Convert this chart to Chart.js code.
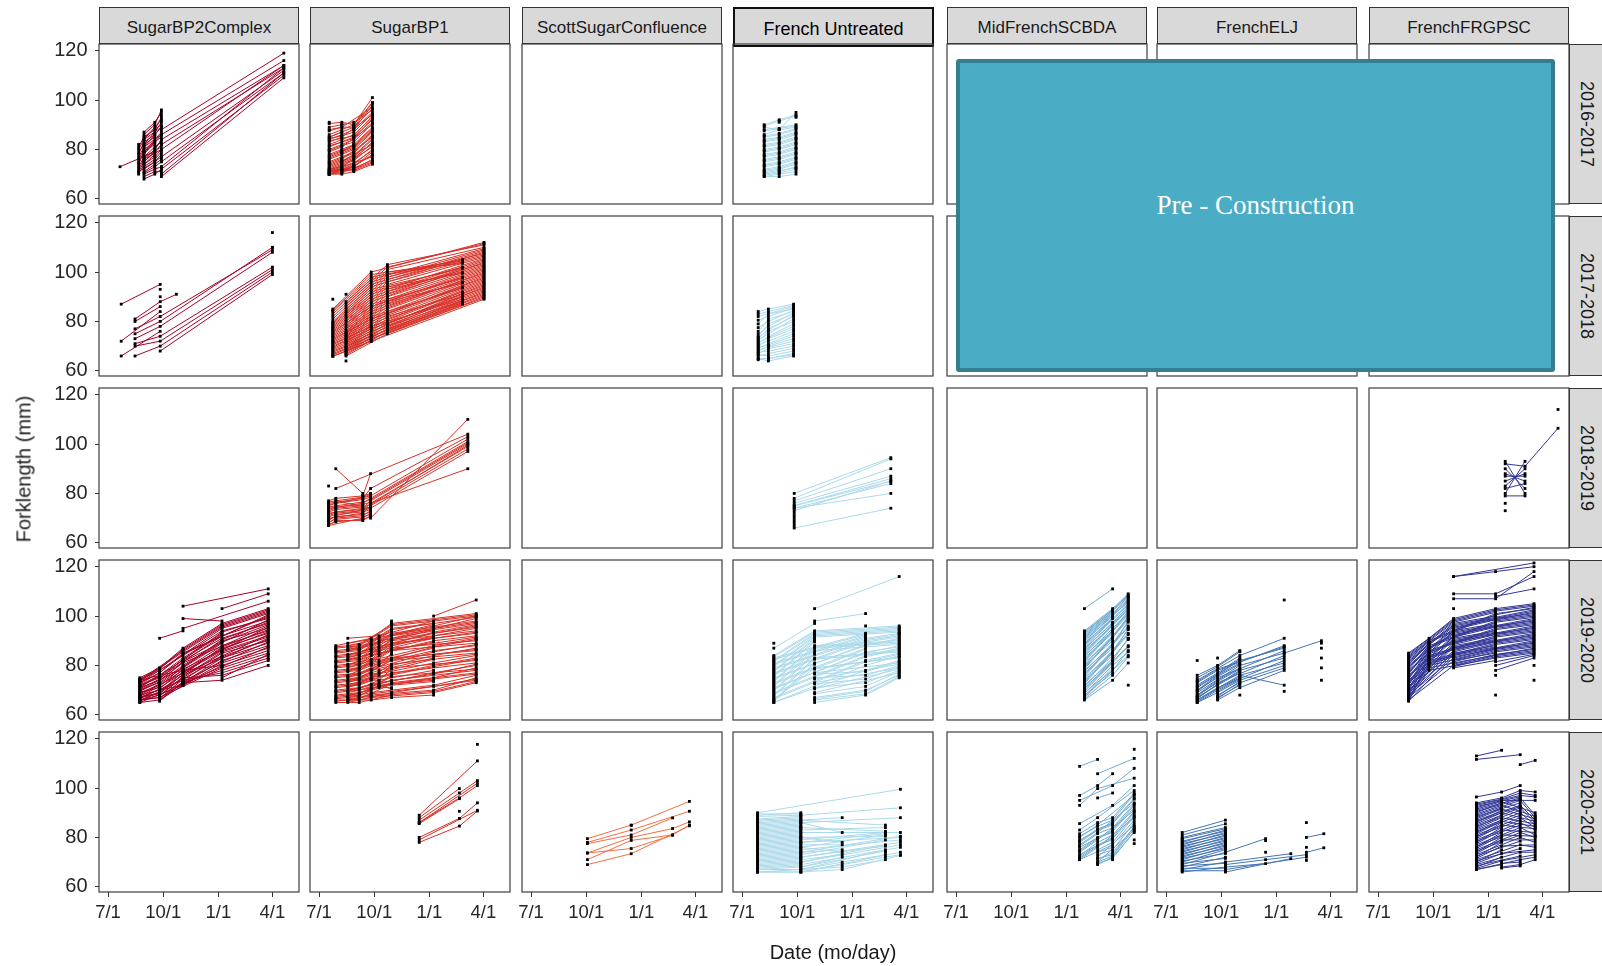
<!DOCTYPE html>
<html>
<head>
<meta charset="utf-8">
<script src="https://cdn.jsdelivr.net/npm/chart.js@4.4.1/dist/chart.umd.min.js"></script>
<style>
  html, body { margin: 0; padding: 0; background: #fff; }
  body { width: 1602px; height: 966px; position: relative; overflow: hidden;
         font-family: 'Liberation Sans', Arial, sans-serif; }
  .panel { position: absolute; }
  .strip { position: absolute; box-sizing: border-box; background: #d9d9d9;
           border: 1px solid #333; color: #1a1a1a; font-size: 17px; text-align: center; }
  .strip.top { height: 37px; line-height: 39px; }
  .strip.side { width: 40px; }
  .strip.side span { position: absolute; left: 16px; top: 50%; white-space: nowrap;
                     font-size: 18px; transform: translate(-50%, -50%) rotate(90deg); }
  .strip.marked { border: 2px solid #111; color: #000; font-size: 18px; height: 40px; line-height: 40px; }
  .title { position: absolute; color: #1a1a1a; font-size: 20px; white-space: nowrap; }
  .note { position: absolute; left: 956px; top: 59px; width: 599px; height: 313px; box-sizing: border-box;
          background: #4bacc6; border: 4px solid #357d91; border-radius: 3px; z-index: 50; }
  .note span { position: absolute; left: 50%; top: 142px; transform: translate(-50%, -50%);
               font-family: 'Liberation Serif', 'Times New Roman', serif; font-size: 27px; color: #fff;
               white-space: nowrap; }
</style>
</head>
<body>
<script>
const _ = null;

// Facets
const sites = ['SugarBP2Complex', 'SugarBP1', 'ScottSugarConfluence', 'French Untreated',
               'MidFrenchSCBDA', 'FrenchELJ', 'FrenchFRGPSC'];
const seasons = ['2016-2017', '2017-2018', '2018-2019', '2019-2020', '2020-2021'];
const siteColors = ['#a50026', '#d73027', '#f46d43', '#abd9e9', '#74add1', '#4575b4', '#313695'];

// Axis ticks: x in days after 1 July of the season, y in mm
const dateTicks = [0, 92, 184, 274];
const dateLabels = ['7/1', '10/1', '1/1', '4/1'];
const lengthTicks = [60, 80, 100, 120];

// Each block: sampling days, then one row of fork lengths per tagged fish (null = not captured)

// SugarBP2Complex 2016-2017
const sbp2_1617_days = [20, 51, 60, 78, 89, 293];
const sbp2_1617 = [
  [73,_,_,79,_,_],
  [_,_,_,_,88,119], [_,_,_,_,86,116], [_,_,_,_,84,114], [_,_,_,_,82,113],
  [_,_,_,_,80,114], [_,_,_,_,77,112], [_,_,_,_,75,111], [_,_,_,_,73,113],
  [_,_,_,_,72,110], [_,_,_,_,70,111], [_,_,_,_,69,109],
  [_,82,_,_,_,_], [_,80,84,_,89,_], [_,78,83,86,_,_], [_,76,80,_,85,_],
  [_,74,79,83,_,_], [_,72,76,_,80,_], [_,70,74,78,_,_], [_,71,_,75,78,_],
  [_,_,86,90,96,_], [_,_,85,88,93,_], [_,_,82,87,91,_], [_,_,79,84,87,_],
  [_,_,77,81,83,_], [_,_,75,79,82,_], [_,_,73,76,79,_], [_,_,71,74,76,_],
  [_,_,70,72,73,_], [_,_,69,71,71,_], [_,_,_,80,84,_], [_,_,_,77,_,_],
  [_,81,85,_,90,_], [_,79,82,85,_,_], [_,77,81,_,86,_], [_,75,79,82,_,_],
  [_,73,77,_,81,_], [_,71,75,79,_,_], [_,_,87,91,95,_], [_,_,84,89,92,_],
  [_,_,81,86,89,_], [_,_,78,83,86,_], [_,_,76,80,84,_], [_,_,74,77,80,_],
  [_,_,72,75,77,_], [_,_,70.5,73,75,_], [_,_,68,70,72,_], [_,_,_,_,94,_],
  [_,_,_,_,92,_], [_,_,_,_,70,_], [_,_,_,73,_,_]
];

// SugarBP1 2016-2017
const sbp1_1617_days = [17, 38, 58, 89];
const sbp1_1617 = [
  [91,_,_,_], [89,90,91,96], [88,89,_,97], [86,88,90,101], [85,_,89,99], [84,86,88,95],
  [83,85,_,94], [82,84,86,93], [81,_,85,92], [80,82,84,91], [79,81,_,90], [78,80,82,89],
  [77,_,81,88], [76,78,80,87], [75,77,79,86], [74,76,_,85], [73,75,77,84], [72,74,76,83],
  [71,73,_,81], [70,72,74,80], [70,_,73,79], [71,72,73,78], [72,73,_,77], [70,71,72,76],
  [71,_,72,75], [70,70,71,74], [_,90,_,_], [_,87,_,_], [_,_,89,_], [_,_,88,98],
  [85,87,_,_], [80,_,_,_], [75,_,_,_], [_,79,82,_], [_,75,78,82], [_,71,73,_],
  [90.5,91,90,99], [87.5,89,89,96.5], [84.5,85.5,87,94.5], [83.5,84.5,85.5,93.5],
  [81.5,83,84.5,92.5], [79.5,81.5,83,90.5], [77.5,79.5,81.5,88.5], [76.5,78.5,80.5,87.5],
  [74.5,76.5,78.5,85.5], [73.5,75.5,77.5,84.5], [72.5,74.5,76.5,82.5], [71.5,73.5,75.5,81.5],
  [70.5,72.5,74.5,79.5], [71,71.5,73.5,77.5], [70,70.5,72.5,75.5], [72,72,71.5,74.5]
];

// French Untreated 2016-2017
const fu_1617_days = [37, 62, 90];
const fu_1617 = [
  [90,92,94], [89,88,95], [88,_,90], [86,88,89], [85,86,88], [84,85,87], [83,84,86],
  [82,83,85], [81,82,84], [80,81,83], [79,80,82], [78,79,81], [77,78,80], [76,77,79],
  [75,76,78], [74,75,77], [73,74,76], [72,73,75], [71,72,74], [70,71,73], [69,70,71],
  [69,69,70], [_,91,_], [_,_,93],
  [89.5,91.5,93.5], [87.5,88.5,89.5], [85.5,86.5,88.5], [83.5,84.5,86.5], [81.5,82.5,84.5],
  [79.5,80.5,82.5], [77.5,78.5,80.5], [75.5,76.5,78.5], [73.5,74.5,76.5], [71.5,72.5,74.5],
  [70.5,71.5,72.5], [69.5,70.5,72]
];

// SugarBP2Complex 2017-2018
const sbp2_1718_days = [22, 45, 87, 114, 274];
const sbp2_1718 = [
  [87,_,95,_,_], [72,_,84,_,_], [66,_,76,_,_], [_,81,88,91,_], [_,80,86,_,_],
  [_,77,82,_,109], [_,75,80,_,110], [_,73,78,_,108], [_,71,74,_,102], [_,70,72,_,101],
  [_,66,70,_,100], [_,_,68,_,99], [_,_,93,_,_], [_,_,90,_,_], [_,_,_,_,116], [_,_,_,_,110]
];

// SugarBP1 2017-2018
const sbp1_1718_days = [23, 45, 87, 114, 239, 275];
const sbp1_1718 = [
  [89,_,_,_,_,_], [_,91,_,_,_,_],
  [85,_,100,_,_,112], [_,88,_,103,_,111], [84,_,98,_,105,_], [_,86,_,101,_,110],
  [82,_,96,_,_,109], [_,84,_,99,104,_], [80,_,94,_,_,108], [_,82,_,97,_,107],
  [79,_,92,_,102,_], [_,80,_,95,_,106], [78,_,90,_,_,105], [_,78,_,93,100,_],
  [77,_,88,_,_,104], [_,76,_,91,_,103], [76,_,86,_,98,_], [_,75,_,89,_,102],
  [75,_,85,_,_,101], [_,74,_,87,96,_], [74,_,83,_,_,100], [_,73,_,85,_,99],
  [73,_,81,_,94,_], [_,72,_,83,_,98], [72,_,80,_,_,97], [_,71,_,81,92,_],
  [71,_,78,_,_,96], [_,70,_,79,_,95], [70,_,77,_,90,_], [_,69,_,78,_,94],
  [69,_,76,_,_,93], [_,68,_,77,88,_], [68,_,74,_,_,92], [_,67,_,76,_,91],
  [67,_,73,_,87,_], [_,66,_,75,_,90], [66,_,72,_,_,89], [_,64,_,_,_,_],
  [84.5,_,99,_,104.5,_], [_,87,_,102,_,111.5], [83,_,97,_,_,109.5], [_,85,_,100,103.5,_],
  [81,_,95,_,_,108.5], [_,83,_,98,_,107.5], [79.5,_,93,_,101.5,_], [_,81,_,96,_,106.5],
  [78.5,_,91,_,_,105.5], [_,79,_,94,99.5,_], [77.5,_,89,_,_,104.5], [_,77,_,92,_,103.5],
  [76.5,_,87,_,97.5,_], [_,75.5,_,90,_,102.5], [75.5,_,86,_,_,101.5], [_,74.5,_,88,95.5,_],
  [74.5,_,84,_,_,100.5], [_,73.5,_,86,_,99.5], [73.5,_,82,_,93.5,_], [_,72.5,_,84,_,98.5],
  [72.5,_,81,_,_,97.5], [_,71.5,_,82,91,_], [71.5,_,79,_,_,96.5], [_,70.5,_,80,_,95.5],
  [70.5,_,78,_,89,_], [_,69.5,_,79,_,94.5], [69.5,_,77,_,_,93.5], [_,68.5,_,78,88.5,_],
  [68.5,_,75,_,_,92.5], [_,67.5,_,77,_,91.5], [67.5,_,74,_,87.5,_], [_,66.5,_,76,_,90.5],
  [66.5,_,73,_,_,89.5], [65.8,_,72,_,_,_]
];

// French Untreated 2017-2018
const fu_1718_days = [27, 44, 86];
const fu_1718 = [
  [84,85,87], [82,_,86], [79,83,85], [76,81,84], [74,79,83], [73,77,82], [72,76,80],
  [71,74,79], [70,73,77], [69,71,75], [68,70,73], [67,69,71], [66,67,69], [65,65,67],
  [65,64,66], [_,_,86],
  [83,84,86.5], [80.5,82,85.5], [77.5,80,84.5], [75,78,83.5], [73.5,76.5,82.5], [72.5,75,81],
  [71.5,73.5,78], [70.5,72,76], [69.5,70.5,74], [68.5,69.5,72], [67.5,68,70], [66.5,66,68],
  [64.5,65,66.5]
];

// SugarBP1 2018-2019
const sbp1_1819_days = [16, 28, 73, 86, 248];
const sbp1_1819 = [
  [83,_,_,_,_], [_,90,80,_,_], [_,82,_,_,104], [_,_,_,70,110], [77,78,79,80,_],
  [76,_,78,82,103], [75,76,_,79,102], [74,_,76,78,101], [73,74,75,_,_], [72,_,74,77,100],
  [71,72,73,76,99], [70,_,72,75,98], [69,71,_,74,97], [68,70,71,73,_], [67,_,70,72,_],
  [67,69,69,71,_], [_,_,_,76,90], [_,77,_,74,_], [_,_,79,88,_],
  [76.5,77,78.5,79.5,_], [75.5,76,77.5,78.5,_], [74.5,75,76.5,77.5,_], [73.5,74.5,75.5,76.5,_],
  [72.5,73.5,74.5,75.5,_], [71.5,72.5,73.5,74.5,_], [70.5,71.5,72.5,73.5,_], [69.5,70.5,71.5,72.5,_],
  [68.5,69.5,70.5,71.5,_], [67.5,68.5,69.5,70.5,_], [_,_,_,77.5,100.5], [_,_,_,75.5,99.5]
];

// French Untreated 2018-2019
const fu_1819_days = [87, 248];
const fu_1819 = [
  [80,94.5], [78,94], [77,90], [76,87], [75,86], [75,85], [74,84], [73,85], [74,80],
  [66,74], [72,_], [71,_], [70,_], [69,_], [68,_], [67,_]
];

// FrenchFRGPSC 2018-2019
const frg_1819_days = [212, 245, 300];
const frg_1819 = [
  [93,80,_], [80,93,_], [90,82,_], [83,90,_], [88,85,_], [85,88,_], [92,91,106.4],
  [79,79,_], [76,_,_], [73,_,_], [_,_,114], [87,87,_], [82,84,_]
];

// SugarBP2Complex 2019-2020
const sbp2_1920_days = [53, 86, 125, 190, 267];
const sbp2_1920 = [
  [_,91,94,_,_], [_,_,104,_,111], [_,_,99,98,_], [_,_,_,103,109], [_,_,95,_,106],
  [75,79,87,97,103], [74,_,86,96,102], [74,78,_,95,101], [73,77,85,_,100], [73,_,84,94,99],
  [72,76,83,93,_], [72,75,_,92,98], [71,_,82,91,97], [71,74,81,_,96], [70,73,80,90,95],
  [70,_,79,89,_], [69,72,78,88,94], [69,71,_,87,93], [68,_,77,86,92], [68,70,76,_,91],
  [67,69,75,85,90], [67,_,74,84,_], [66,68,73,83,89], [66,67,_,82,88], [65,_,72,81,87],
  [65,66,72,80,86], [66,67,_,79,85], [_,66,73,78,84], [67,_,74,77,83], [_,68,75,76,82],
  [_,_,73,74,80], [_,70,72,_,_],
  [74.5,78.5,86.5,96.5,102.5], [73.5,_,85.5,95.5,101.5], [72.5,77,84.5,_,100.5],
  [71.5,75.5,_,93.5,99.5], [70.5,74.5,82.5,92.5,_], [69.5,73.5,81.5,_,98.5], [68.5,72.5,_,90.5,97.5],
  [67.5,71.5,79.5,89.5,96.5], [66.5,70.5,78.5,_,95.5], [65.5,69.5,_,87.5,94.5], [66,69,77.5,86.5,93.5],
  [67,68.5,76.5,_,92.5], [_,67.5,75.5,85.5,91.5], [_,66.5,74.5,83.5,90.5], [_,65.5,73.5,81.5,89.5],
  [_,_,72.5,79.5,87.5], [_,_,_,75,84.5], [_,_,_,_,82.5], [74,76,78,80,_]
];

// SugarBP1 2019-2020
const sbp1_1920_days = [28, 48, 67, 87, 100, 121, 191, 262];
const sbp1_1920 = [
  [88,_,_,91,_,97,_,101], [87,_,88,_,_,96,_,100], [_,91,_,_,92,_,98,_], [86,_,87,_,_,95,97,_],
  [_,88,_,90,_,_,96,100], [85,_,86,_,91,94,_,_], [_,87,_,89,_,_,95,99], [84,_,85,_,_,93,_,98],
  [_,86,_,88,90,_,94,_], [83,_,84,_,_,92,_,97], [_,84,_,87,_,_,93,96], [82,_,83,_,88,91,_,_],
  [_,83,_,86,_,_,92,95], [81,_,82,_,_,90,_,94], [_,82,_,85,86,_,91,_], [80,_,81,_,_,89,_,93],
  [_,80,_,84,_,_,90,92], [79,_,80,_,84,88,_,_], [_,79,_,82,_,_,88,91], [78,_,79,_,_,87,_,90],
  [_,78,_,81,82,_,87,_], [77,_,78,_,_,86,_,89], [_,76,_,80,_,_,86,88], [76,_,77,_,80,85,_,_],
  [_,75,_,78,_,_,84,87], [75,_,76,_,_,83,_,86], [_,74,_,77,78,_,83,_], [74,_,75,_,_,82,_,85],
  [_,73,_,76,_,_,81,84], [73,_,74,_,76,80,_,_], [_,72,_,75,_,_,80,83], [72,_,73,_,_,79,_,82],
  [_,71,_,74,74,_,78,_], [71,_,72,_,_,77,_,81], [_,70,_,72,_,_,77,80], [70,_,71,_,73,76,_,_],
  [_,69,_,71,_,_,75,79], [69,_,70,_,_,74,_,78], [_,68,_,70,72,_,74,_], [68,_,69,_,_,73,_,77],
  [_,67,_,69,_,_,72,76], [67,_,68,_,71,71,_,_], [_,66,_,68,_,_,70,75], [66,_,66,_,_,69,_,74],
  [_,65,_,67,_,_,69,73], [65,_,65,_,_,68,_,_], [_,66,_,66,_,67,68,_],
  [_,_,_,_,_,_,100,106.5], [_,_,_,_,_,98,_,_], [_,_,_,_,_,69,_,_],
  [87.5,_,88.5,_,_,96.5,_,100.5], [_,89,_,90.5,_,_,96.5,_], [85.5,_,86.5,_,_,94.5,_,99.5],
  [_,86.5,_,88.5,89,_,94.5,_], [83.5,_,84.5,_,_,92.5,_,97.5], [_,84.5,_,86.5,_,_,93.5,96.5],
  [81.5,_,82.5,_,87,_,91.5,_], [_,82.5,_,84.5,_,90.5,_,95.5], [79.5,_,80.5,_,_,88.5,_,93.5],
  [_,80.5,_,82.5,85,_,89.5,_], [77.5,_,78.5,_,_,86.5,_,91.5], [_,77.5,_,80.5,_,_,87.5,90.5],
  [75.5,_,76.5,_,81,84.5,_,_], [_,75.5,_,78.5,_,_,85.5,88.5], [73.5,_,74.5,_,_,82.5,_,86.5],
  [_,73.5,_,76.5,77,_,82.5,_], [71.5,_,72.5,_,_,80.5,_,84.5], [_,71.5,_,74.5,_,_,79.5,82.5],
  [69.5,_,70.5,_,74,78.5,_,_], [_,69.5,_,72.5,_,_,76.5,80.5], [67.5,_,68.5,_,_,75.5,_,78.5],
  [_,67.5,_,70.5,71.5,_,73.5,_], [65.5,_,66.5,_,_,72.5,_,76.5], [_,65.5,_,68.5,_,_,71.5,74.5],
  [66.5,_,67.5,_,72,70.5,_,_], [_,66.5,_,67.5,_,_,69.5,73.5], [86.5,_,_,_,_,_,_,_],
  [_,_,86.5,_,_,_,_,_], [_,_,_,_,_,97.5,_,_]
];

// French Untreated 2019-2020
const fu_1920_days = [53, 121, 206, 262];
const fu_1920 = [
  [_,103,_,116], [_,98,101,_], [89,_,_,_], [87,97,_,_], [84,94,_,96], [83,_,93,_],
  [82,93,_,95], [81,_,92,_], [80,92,_,94], [79,_,91,93], [78,91,_,_], [77,_,90,92],
  [76,90,_,_], [75,_,88,91], [74,88,_,90], [73,_,87,_], [72,87,_,89], [71,_,85,88],
  [70,85,_,_], [69,_,84,87], [68,83,_,86], [67,_,82,85], [66,81,_,_], [65,_,80,84],
  [66,79,_,83], [65,_,78,82], [_,77,_,81], [_,75,76,80], [_,73,_,79], [_,71,73,78],
  [_,69,_,77], [_,67,70,76], [_,65,68,75], [_,_,96,_], [_,_,_,93],
  [83.5,93.5,_,95.5], [82.5,_,92.5,_], [81.5,92.5,_,94.5], [80.5,_,91.5,_], [79.5,91.5,_,93.5],
  [78.5,_,90.5,92.5], [77.5,90.5,_,_], [76.5,_,89.5,91.5], [75.5,89.5,_,_], [74.5,_,88.5,90.5],
  [73.5,87.5,_,89.5], [72.5,_,86.5,_], [71.5,86,_,88.5], [70.5,_,85.5,87.5], [69.5,84.5,_,_],
  [68.5,_,83.5,86.5], [67.5,82.5,_,85.5], [66.5,_,81.5,84.5], [65.5,80.5,_,_], [_,78.5,_,83.5],
  [_,76.5,77.5,81.5], [_,74.5,_,80.5], [_,72.5,74.5,79.5], [_,70.5,_,78.5], [_,68.5,71.5,77.5],
  [_,66.5,69.5,76.5], [_,66,68.5,75.5]
];

// MidFrenchSCBDA 2019-2020
const mfs_1920_days = [214, 261, 287];
const mfs_1920 = [
  [103,111,_], [94,103,109], [93,_,108], [92,102,_], [91,_,107], [90,100,106], [89,99,_],
  [88,_,105], [87,97,104], [86,96,_], [85,_,103], [84,94,102], [83,93,_], [82,_,101],
  [81,91,100], [80,90,_], [79,_,99], [78,88,98], [77,87,_], [76,_,96], [75,85,95],
  [74,84,_], [73,_,93], [72,82,91], [71,81,_], [70,_,88], [69,78,86], [68,77,_],
  [67,_,84], [66,74,81], [_,_,72], [_,_,91],
  [93.5,102.5,108.5], [92.5,_,107.5], [91.5,101.5,_], [90.5,_,106.5], [89.5,100.5,105.5],
  [88.5,99.5,_], [87.5,_,104.5], [86.5,97.5,103.5], [85.5,96.5,_], [84.5,_,102.5],
  [83.5,95,101.5], [82.5,94,_], [81.5,_,100.5], [80.5,92,99.5], [79.5,91,_], [78.5,_,98.5],
  [77.5,89,97.5], [76.5,88,_], [75.5,_,95.5], [74.5,86,94.5], [73.5,85,_], [72.5,_,92.5],
  [71.5,83,90.5], [70.5,82,_], [69.5,_,87.5], [68.5,80,85.5], [67.5,79,_], [66.5,76,83.5]
];

// FrenchELJ 2019-2020
const elj_1920_days = [52, 86, 123, 197, 259];
const elj_1920 = [
  [82,_,_,_,_], [76,80,86,_,_], [74,_,84,91,_], [73,78,_,88,_], [72,77,83,_,_],
  [71,_,82,87,_], [70,76,81,_,_], [70,75,_,86,_], [69,_,80,85,_], [68,74,79,_,_],
  [68,73,_,84,_], [67,_,78,83,_], [67,72,77,_,_], [66,71,_,82,_], [66,_,76,81,_],
  [65,70,75,_,_], [65,69,74,80,_], [_,68,73,79,_], [_,67,72,_,_], [_,66,71,78,_],
  [_,83,_,_,_], [_,_,68,_,_], [_,_,_,106.5,_], [_,_,76,72,_], [_,_,_,69.5,_],
  [_,_,_,85,90], [_,_,_,_,89], [_,_,_,_,87], [_,_,_,_,83], [_,_,_,_,79], [_,_,_,_,74],
  [75,79.5,85.5,_,_], [73.5,78.5,_,87.5,_], [71.5,76.5,82.5,_,_], [69.5,75.5,80.5,_,_],
  [67.5,73.5,78.5,_,_], [66.5,72.5,77.5,_,_], [65.5,70.5,75.5,_,_], [_,69.5,74.5,_,_],
  [_,67.5,73.5,_,_], [_,66.5,72.5,_,_]
];

// FrenchFRGPSC 2019-2020
const frg_1920_days = [51, 85, 126, 196, 260];
const frg_1920 = [
  [_,_,116,118,120], [_,_,116,_,121.5], [_,_,109,109,116], [_,_,107,107,118], [_,_,_,108,111],
  [_,_,103,_,_], [85,91,99,103,105], [84,_,98,102,104], [83,90,_,101,103], [82,_,97,100,_],
  [81,89,96,_,102], [80,_,95,99,101], [79,88,_,98,100], [78,_,94,97,_], [77,87,93,_,99],
  [76,_,92,96,98], [75,86,_,95,97], [74,_,91,94,_], [73,85,90,_,96], [73,_,89,93,95],
  [72,84,_,92,94], [71,_,88,91,_], [71,83,87,_,93], [70,_,86,90,92], [70,82,_,89,91],
  [69,_,85,88,_], [69,81,84,_,90], [68,_,83,87,89], [68,80,_,86,88], [67,_,82,85,_],
  [67,79,81,_,87], [66,_,80,84,86], [66,78,_,83,85], [_,_,79,82,_], [_,_,_,80,84],
  [_,_,_,78,83], [_,_,_,76,_], [_,_,_,68,_], [_,_,_,_,80], [_,_,_,_,74],
  [84.5,_,98.5,102.5,104.5], [83.5,_,97.5,101.5,_], [82.5,89.5,_,100.5,103.5], [81.5,_,96.5,99.5,102.5],
  [80.5,88.5,95.5,_,101.5], [79.5,_,94.5,98.5,100.5], [78.5,87.5,_,97.5,99.5], [77.5,_,93.5,96.5,_],
  [76.5,86.5,92.5,_,98.5], [75.5,_,91.5,95.5,97.5], [74.5,85.5,_,94.5,96.5], [73.5,_,90.5,93.5,_],
  [72.5,84.5,89.5,_,95.5], [71.5,_,88.5,92.5,94.5], [70.5,83.5,_,91.5,93.5], [69.5,_,87.5,90.5,_],
  [68.5,82.5,86.5,_,92.5], [67.5,_,85.5,89.5,91.5], [66.5,81.5,_,88.5,90.5], [65.5,_,84.5,87.5,_],
  [66,80.5,83.5,_,89.5], [_,_,82.5,86.5,88.5], [_,_,81.5,85.5,87.5], [_,_,80.5,84.5,86.5],
  [_,_,79.5,83.5,85.5], [_,_,_,81.5,84.5]
];

// SugarBP1 2020-2021
const sbp1_2021_days = [167, 234, 264];
const sbp1_2021 = [
  [89,_,111], [88,99.8,_], [87,98,103], [86,96,101], [86,_,102], [85.6,95.7,_],
  [80,87.7,94], [79,_,91], [78,84.6,90.7], [_,90.6,_], [_,_,117.7]
];

// ScottSugarConfluence 2020-2021
const ssc_2021_days = [94, 167, 236, 264];
const ssc_2021 = [
  [79.5,85,_,94.6], [78,83,_,90.6], [77.5,81,87.9,_], [73.7,80,83.6,86.3],
  [71,78.8,81,85], [69,73.4,_,84.7], [73.7,75.5,80.9,_], [_,84.9,_,_]
];

// French Untreated 2020-2021
const fu_2021_days = [26, 98, 167, 239, 264];
const fu_2021 = [
  [90,_,_,_,99.5], [_,89,_,_,92], [_,87,88,_,_], [_,86,_,_,88], [89,90,_,_,_], [88,_,_,_,_],
  [87,88,_,_,_], [86,87,_,85,_], [85,86,82,_,_], [84,85,_,_,_], [83,84,_,_,_], [82,83,_,84,_],
  [81,82,_,_,82], [80,81,_,_,_], [79,80,78,_,_], [78,79,_,82,_], [77,78,_,_,80], [76,77,77,_,_],
  [75,76,_,81,_], [74,75,_,_,79], [73,74,75,_,_], [72,73,_,79,_], [71,72,_,_,78], [70,71,73,_,_],
  [69,70,_,77,_], [68,69,_,_,76], [67,68,72,_,_], [66,67,_,75,_], [66,66,_,_,74], [67,67,70,73,_],
  [66,66,69,72,73], [_,67,68,71,_], [_,66,67,_,72.7], [_,_,_,74,_],
  [89.5,89.5,_,_,_], [88.5,89,_,_,_], [87.5,88.5,_,_,_], [86.5,87.5,_,_,_], [85.5,86.5,_,_,_],
  [84.5,85.5,_,_,_], [83.5,84.5,_,_,_], [82.5,83.5,_,_,_], [81.5,82.5,_,_,_], [80.5,81.5,_,_,_],
  [79.5,80.5,_,_,_], [78.5,79.5,_,_,_], [77.5,78.5,_,_,_], [76.5,77.5,_,_,_], [75.5,76.5,_,_,_],
  [74.5,75.5,_,_,_], [73.5,74.5,_,_,_], [72.5,73.5,_,_,_], [71.5,72.5,_,_,_], [70.5,71.5,_,_,_],
  [69.5,70.5,_,_,_], [68.5,69.5,_,_,_], [67.5,68.5,_,_,_], [_,84,_,82.5,_], [_,80,_,80.5,_],
  [_,76,74,_,_], [_,72,_,76.5,_], [_,68,_,74.5,_], [_,70,_,_,77], [_,74,_,_,80.5], [_,78,_,81.5,_]
];

// MidFrenchSCBDA 2020-2021
const mfs_2021_days = [206, 236, 261, 297];
const mfs_2021 = [
  [108.8,111.6,_,_], [_,105.8,_,112], [97,101,105.8,_], [95,_,101,108], [93,99.8,_,104],
  [_,96,98,_], [85.6,_,93,101], [83,88,_,99], [81.5,86,88,98], [80,85,_,97], [79,_,86,96],
  [78,83,85,_], [77,82,_,94], [76,_,83,93], [75,80,82,_], [74,79,_,91], [73,_,80,90],
  [72,77,79,_], [71,76,_,88], [71,_,77,87], [_,74,76,_], [_,72,_,85], [_,71,74,84],
  [_,70,_,83], [_,69,72,82], [_,_,71,_], [_,_,_,79], [_,_,_,77.5], [_,_,_,115.7],
  [80.5,84.5,87,97.5], [78.5,83.5,85.5,95.5], [76.5,81.5,84,93.5], [74.5,79.5,82.5,92],
  [72.5,78,81,90.5], [71.5,76.5,79.5,89], [_,75,78,88.5], [_,73,75,86], [_,71.5,73,84.5],
  [_,70,72.5,83.5], [_,69.5,71.5,82.5]
];

// FrenchELJ 2020-2021
const elj_2021_days = [27, 99, 166, 208, 234, 263];
const elj_2021 = [
  [82,87,_,_,_,_], [80,84,_,_,_,_], [79,_,_,_,_,_], [78,83,_,_,_,_], [77,82,_,_,_,_],
  [76,81,_,_,_,_], [75,80,_,_,_,_], [74,79,_,_,_,_], [73,78,_,_,_,_], [72,77,_,_,_,_],
  [71,76,_,_,_,_], [70,75,_,_,_,_], [69,74,_,_,_,_], [68,72,_,_,_,_], [67,70,_,_,_,_],
  [66,68,_,_,_,_], [_,74,79.5,_,_,_], [_,70,_,73.4,_,_], [_,67,_,_,72,_], [_,66,_,71.4,_,_],
  [_,68,69.4,_,_,_], [_,69,_,_,73,_], [_,_,78.7,_,_,_], [_,_,74,_,_,_], [_,_,71,_,_,_],
  [_,_,_,_,86,_], [_,_,_,_,80,81.5], [_,_,_,_,74,75.8], [_,_,_,_,76,_], [_,_,_,_,70.7,_],
  [81,85.5,_,_,_,_], [79.5,83.5,_,_,_,_], [78.5,82.5,_,_,_,_], [77.5,81.5,_,_,_,_],
  [76.5,80.5,_,_,_,_], [75.5,79.5,_,_,_,_], [74.5,78.5,_,_,_,_], [73.5,77.5,_,_,_,_],
  [72.5,76.5,_,_,_,_], [71.5,75.5,_,_,_,_], [70.5,73.5,_,_,_,_], [69.5,71.5,_,_,_,_],
  [68.5,69.5,_,_,_,_], [67.5,67.5,_,_,_,_], [66.5,66.5,_,_,_,_]
];

// FrenchFRGPSC 2020-2021
const frg_2021_days = [164, 206, 237, 262];
const frg_2021 = [
  [113,115.3,_,_], [111.6,_,113.5,_], [_,_,109.5,111.2], [96.4,98.4,101,_], [94,96,99,98.4],
  [93,_,97,96.4], [92,95,_,95], [91,_,96,89], [90,94,_,_], [89,_,95,88], [88,92,_,_],
  [87,_,93,87], [86,91,_,_], [85,_,92,86], [84,89,_,_], [83,_,90,85], [82,87,_,_],
  [81,_,88,84], [80,86,_,_], [79,_,86,83], [78,84,_,_], [77,_,84,81], [76,82,_,_],
  [75,_,82,80], [74,80,_,_], [73,_,80,78], [72,78,_,_], [71,_,77,76], [70,75,_,_],
  [69,_,74,74], [68,72,_,_], [67,_,71,72], [67,69,_,_], [_,68,69,71], [_,67.6,68.5,_],
  [93.5,95.5,98,97], [92.5,_,96.5,_], [91.5,94.5,_,90], [90.5,_,95.5,_], [89.5,93,_,88.5],
  [88.5,_,94,_], [87.5,91.5,_,87.5], [86.5,_,92.5,_], [85.5,90,_,86.5], [84.5,_,91,_],
  [83.5,88,_,85.5], [82.5,_,89,_], [81.5,86.5,_,84.5], [80.5,_,87,_], [79.5,85,_,83.5],
  [78.5,_,85,_], [77.5,83,_,82], [76.5,_,83,_], [75.5,81,_,80.5], [74.5,_,81,_],
  [73.5,79,_,79], [72.5,_,78.5,_], [71.5,76.5,_,77], [70.5,_,75.5,_], [69.5,73.5,_,75],
  [68.5,_,72.5,_], [67.5,70.5,_,73], [_,69.5,70,_]
];

// Which facet (season row, site column) each block belongs to
const panelData = [
  [0, 0, sbp2_1617_days, sbp2_1617], [0, 1, sbp1_1617_days, sbp1_1617], [0, 3, fu_1617_days, fu_1617],
  [1, 0, sbp2_1718_days, sbp2_1718], [1, 1, sbp1_1718_days, sbp1_1718], [1, 3, fu_1718_days, fu_1718],
  [2, 1, sbp1_1819_days, sbp1_1819], [2, 3, fu_1819_days, fu_1819], [2, 6, frg_1819_days, frg_1819],
  [3, 0, sbp2_1920_days, sbp2_1920], [3, 1, sbp1_1920_days, sbp1_1920], [3, 3, fu_1920_days, fu_1920],
  [3, 4, mfs_1920_days, mfs_1920], [3, 5, elj_1920_days, elj_1920], [3, 6, frg_1920_days, frg_1920],
  [4, 1, sbp1_2021_days, sbp1_2021], [4, 2, ssc_2021_days, ssc_2021], [4, 3, fu_2021_days, fu_2021],
  [4, 4, mfs_2021_days, mfs_2021], [4, 5, elj_2021_days, elj_2021], [4, 6, frg_2021_days, frg_2021]
];

// ---- layout of the facet grid ----
const colLeft = [99, 310, 522, 733, 947, 1157, 1369];
const rowTop = [44, 216, 388, 560, 732];
const PW = 200, PH = 160;
const M = 30, AXW = 60, AXH = 36;
const X_MIN = -15, X_MAX = 318.3, Y_MIN = 57.9, Y_MAX = 122.7;

Chart.defaults.font.family = "'Liberation Sans', Arial, sans-serif";

const panelBorder = {
  id: 'panelBorder',
  afterDatasetsDraw(chart) {
    const { ctx, chartArea: a } = chart;
    ctx.save();
    ctx.strokeStyle = '#3d3d3d';
    ctx.lineWidth = 1.2;
    ctx.strokeRect(a.left, a.top, a.right - a.left, a.bottom - a.top);
    ctx.restore();
  }
};

function el(cls, css, html) {
  const d = document.createElement('div');
  d.className = cls;
  Object.assign(d.style, css);
  if (html !== undefined) d.innerHTML = html;
  document.body.appendChild(d);
  return d;
}

// column strips
sites.forEach((s, c) => {
  if (s === 'French Untreated') {
    el('strip marked', { left: colLeft[c] + 'px', top: '7px', width: (PW + 1) + 'px' }, s);
  } else {
    el('strip top', { left: colLeft[c] + 'px', top: '7px', width: PW + 'px' }, s);
  }
});
// row strips
seasons.forEach((s, r) => {
  el('strip side', { left: '1569px', top: rowTop[r] + 'px', height: PH + 'px' }, '<span>' + s + '</span>');
});

function buildDatasets(color, days, fish) {
  const points = [];
  const tracks = [];
  fish.forEach(row => {
    const pts = [];
    row.forEach((v, i) => { if (v !== null) pts.push({ x: days[i], y: v }); });
    pts.forEach(p => points.push(p));
    if (pts.length > 1) {
      tracks.push({ data: pts, showLine: true, borderColor: color, borderWidth: 1,
                    pointRadius: 0, tension: 0, order: 1 });
    }
  });
  return [{ data: points, showLine: false, pointStyle: 'rect', pointRadius: 2,
            pointBackgroundColor: '#000', pointBorderWidth: 0, order: 0 }].concat(tracks);
}

for (let r = 0; r < seasons.length; r++) {
  for (let c = 0; c < sites.length; c++) {
    const showY = c === 0, showX = r === seasons.length - 1;
    const left = colLeft[c] - M - (showY ? AXW : 0);
    const top = rowTop[r] - M;
    const w = PW + 2 * M + (showY ? AXW : 0);
    const h = PH + 2 * M + (showX ? AXH : 0);
    const holder = el('panel', { left: left + 'px', top: top + 'px', width: w + 'px', height: h + 'px' });
    const cv = document.createElement('canvas');
    cv.width = w; cv.height = h;
    cv.style.width = w + 'px'; cv.style.height = h + 'px';
    holder.appendChild(cv);

    const entry = panelData.find(p => p[0] === r && p[1] === c);
    const datasets = entry ? buildDatasets(siteColors[c], entry[2], entry[3]) : [];

    new Chart(cv, {
      type: 'scatter',
      data: { datasets },
      options: {
        responsive: false,
        animation: false,
        events: [],
        layout: { padding: M },
        plugins: { legend: { display: false }, tooltip: { enabled: false } },
        scales: {
          x: {
            type: 'linear', min: X_MIN, max: X_MAX, display: showX, position: 'bottom',
            afterFit: s => { s.height = showX ? AXH : 0; },
            afterBuildTicks: s => { s.ticks = dateTicks.map(v => ({ value: v })); },
            grid: { drawOnChartArea: false, drawTicks: true, tickLength: 5, color: '#333', lineWidth: 1 },
            border: { display: false },
            ticks: { autoSkip: false, maxRotation: 0, padding: 5, color: '#262626',
                     font: { size: 18.5 }, callback: (v, i) => dateLabels[i] }
          },
          y: {
            type: 'linear', min: Y_MIN, max: Y_MAX, display: showY, position: 'left',
            afterFit: s => { s.width = showY ? AXW : 0; },
            afterBuildTicks: s => { s.ticks = lengthTicks.map(v => ({ value: v })); },
            grid: { drawOnChartArea: false, drawTicks: true, tickLength: 4, color: '#333', lineWidth: 1 },
            border: { display: false },
            ticks: { padding: 7.5, color: '#262626', font: { size: 20 },
                     callback: (v, i) => String(lengthTicks[i]) }
          }
        }
      },
      plugins: [panelBorder]
    });
  }
}

// axis titles
el('title', { left: '24px', top: '469px', transform: 'translate(-50%, -50%) rotate(-90deg)' }, 'Forklength (mm)');
el('title', { left: '833px', top: '952px', transform: 'translate(-50%, -50%)' }, 'Date (mo/day)');

// annotation box over the upper right facets
el('note', {}, '<span>Pre - Construction</span>');
</script>
</body>
</html>
